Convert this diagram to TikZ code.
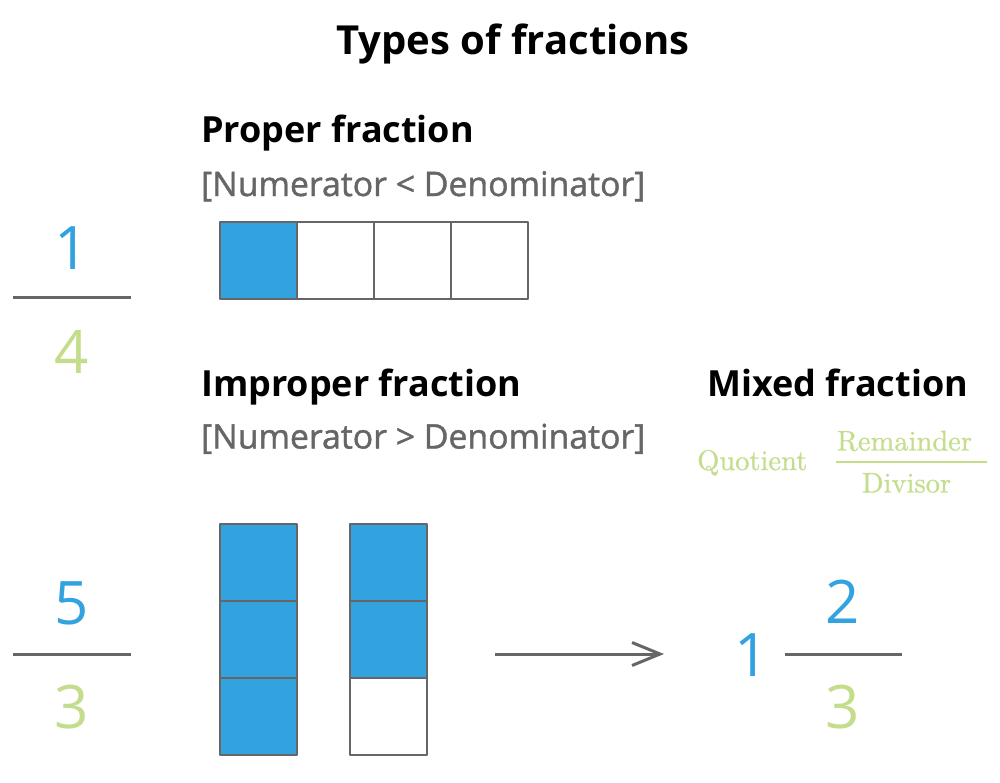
\documentclass[tikz,border=0pt]{standalone}
\usepackage{fontspec}
\setmainfont{Open Sans}
\newfontfamily\condfont{Open Sans}[FakeBold = 1.3]
\newfontfamily\lmfont{lmroman10-regular.otf}[FakeBold = 0.8]
\usetikzlibrary{arrows.meta}

\definecolor{fracblue}{HTML}{33A3E0}
\definecolor{fracgreen}{HTML}{C4DD8D}
\definecolor{edgegray}{HTML}{666666}

\begin{document}
\begin{tikzpicture}[
	% Propiedades generales: 1 unidad = 1 px de la imagen
	x = 1pt, y = -1pt,
	line join = round,
	% Estilos
	%	a. textos
	title/.style = {
		anchor = base, inner sep = 0pt,
		font = \bfseries\fontsize{40}{46}\selectfont
	},
	heading/.style = {
		anchor = base west, inner sep = 0pt,
		font = \bfseries\fontsize{36}{42}\selectfont
	},
	condition/.style = {
		anchor = base west, inner sep = 0pt, text = edgegray,
		font = \condfont\fontsize{33.8}{38}\selectfont
	},
	digit/.style = {
		inner sep = 0pt,
		font = \fontsize{60}{70}\selectfont
	},
	legend/.style = {
		inner sep = 0pt, text = fracgreen,
		font = \lmfont\fontsize{28.5}{33}\selectfont
	},
	%	b. casillas de las barras
	cell/.style = {
		draw = edgegray, line width = 2pt,
		minimum size = 77pt, inner sep = 0pt,
		fill = #1
	},
	cell/.default = white,
	%	c. rayas de fracción y flecha
	bar/.style = {draw = edgegray, line width = 3pt},
	arrow/.style = {
		draw = edgegray, line width = 3pt,
		arrows = -{Straight Barb[length = 28pt, width = 23pt]}
	},
]

	% márgenes del dibujo
	\useasboundingbox (0,0) rectangle (1000,782);

	% título
	\node[title] (title) at (513,54) {Types of fractions};

	% fracción propia
	\node[heading] (proper) at (201,142) {Proper fraction};
	\node[condition] (proper-cond) at (201,196) {[Numerator < Denominator]};

	\foreach \i/\c in {0/fracblue, 1/white, 2/white, 3/white}
		\node[cell = \c] (p\i) at (258.5+77*\i, 260.5) {};

	\node[digit, text = fracblue] (p-num) at (72,248) {1};
	\node[digit, text = fracgreen] (p-den) at (72,352) {4};
	\coordinate (p-bar-l) at (13,297);
	\coordinate (p-bar-r) at (131,297);
	\draw[bar] (p-bar-l) -- (p-bar-r);

	% fracción impropia
	\node[heading] (improper) at (201,396) {Improper fraction};
	\node[condition] (improper-cond) at (201,448.5) {[Numerator > Denominator]};

	\foreach \j in {0,1,2}
		\node[cell = fracblue] (a\j) at (258.5, 562.5+77*\j) {};
	\foreach \j/\c in {0/fracblue, 1/fracblue, 2/white}
		\node[cell = \c] (b\j) at (388, 562.5+77*\j) {};

	\node[digit, text = fracblue] (i-num) at (72,603) {5};
	\node[digit, text = fracgreen] (i-den) at (72,707) {3};
	\coordinate (i-bar-l) at (13,654);
	\coordinate (i-bar-r) at (131,654);
	\draw[bar] (i-bar-l) -- (i-bar-r);

	% flecha
	\coordinate (arrow-start) at (495,654);
	\coordinate (arrow-end) at (664,654);
	\draw[arrow] (arrow-start) -- (arrow-end);

	% fracción mixta
	\node[heading] (mixed) at (707,396) {Mixed fraction};

	\node[legend, anchor = base west] (quotient) at (697,470) {Quotient};
	\node[legend, anchor = base] (remainder) at (904.5,450.5) {Remainder};
	\node[legend, anchor = base] (divisor) at (906.5,492.5) {Divisor};
	\coordinate (leg-bar-l) at (836,462);
	\coordinate (leg-bar-r) at (987,462);
	\draw[draw = fracgreen, line width = 2.5pt] (leg-bar-l) -- (leg-bar-r);

	\node[digit, text = fracblue] (m-whole) at (752,655) {1};
	\node[digit, text = fracblue] (m-num) at (843,602) {2};
	\node[digit, text = fracgreen] (m-den) at (843,707) {3};
	\coordinate (m-bar-l) at (785,654);
	\coordinate (m-bar-r) at (902,654);
	\draw[bar] (m-bar-l) -- (m-bar-r);

\end{tikzpicture}
\end{document}
